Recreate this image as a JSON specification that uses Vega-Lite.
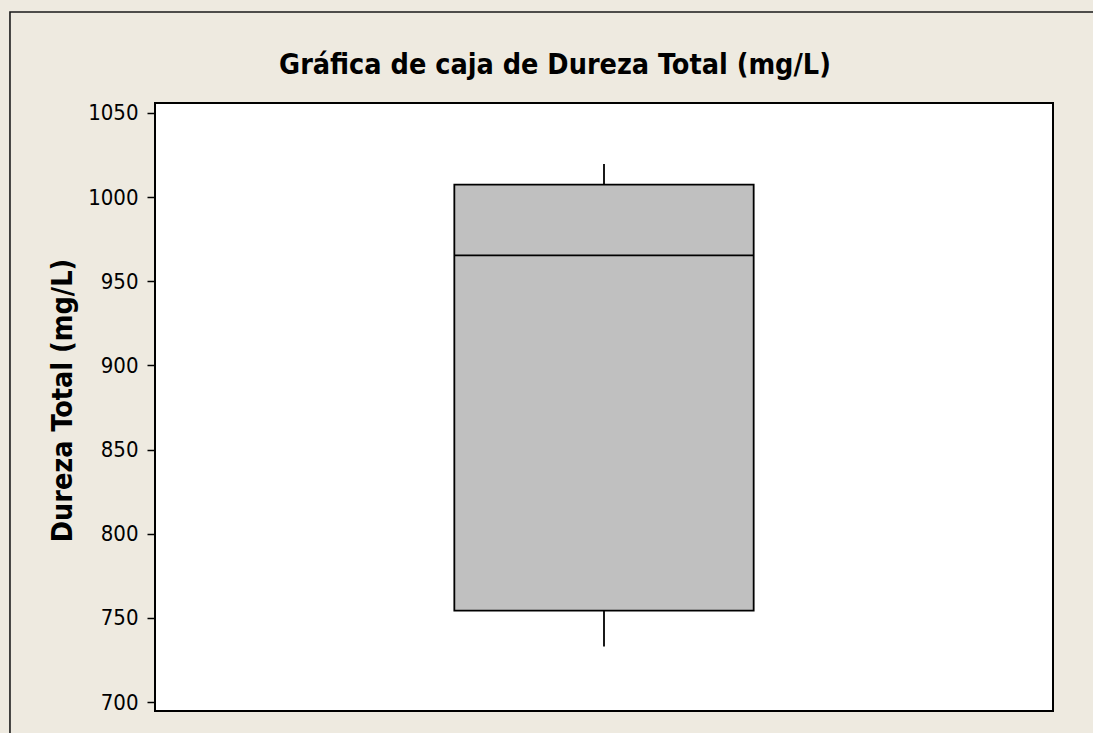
{
  "$schema": "https://vega.github.io/schema/vega-lite/v6.json",
  "width": 898,
  "height": 608,
  "autosize": {"type": "none"},
  "padding": {"left": 155, "top": 103, "right": 40, "bottom": 22},
  "background": "#EEEAE0",
  "title": {
    "text": "Gráfica de caja de Dureza Total (mg/L)",
    "font": "DejaVu Sans Condensed",
    "fontSize": 28.5,
    "fontWeight": "bold",
    "color": "#000000",
    "anchor": "middle",
    "dx": -49,
    "dy": 120,
    "baseline": "alphabetic",
    "offset": 29
  },
  "config": {"view": {"stroke": "#000000", "strokeWidth": 2, "fill": "#FFFFFF"}},
  "data": {
    "values": [
      {"variable": "Dureza Total (mg/L)", "lower": 733, "q1": 754.3, "median": 965.4, "q3": 1007.4, "upper": 1019.7}
    ]
  },
  "resolve": {"scale": {"x": "independent"}},
  "layer": [
    {
      "mark": {"type": "rule", "color": "#000000", "strokeWidth": 1.8},
      "encoding": {
        "x": {"field": "variable", "type": "nominal", "bandPosition": 0.5, "scale": {"type": "band", "paddingInner": 0, "paddingOuter": 1}, "axis": null},
        "y": {
          "field": "lower",
          "type": "quantitative",
          "scale": {"domain": [694.7, 1055.9], "nice": false, "zero": false},
          "axis": {
            "title": "Dureza Total (mg/L)",
            "titleFont": "DejaVu Sans Condensed",
            "titleFontSize": 28.5,
            "titleFontWeight": "bold",
            "titleColor": "#000000",
            "titlePadding": 10,
            "titleY": 297,
            "values": [700, 750, 800, 850, 900, 950, 1000, 1050],
            "format": "d",
            "labelFont": "DejaVu Sans Condensed",
            "labelFontSize": 22,
            "labelColor": "#000000",
            "labelPadding": 9,
            "tickColor": "#000000",
            "tickSize": 8,
            "tickWidth": 1.5,
            "domain": false,
            "grid": false
          }
        },
        "y2": {"field": "upper"}
      }
    },
    {
      "mark": {"type": "bar", "fill": "#C0C0C0", "stroke": "#000000", "strokeWidth": 1.8},
      "encoding": {
        "x": {"field": "variable", "type": "nominal", "scale": {"type": "band", "paddingInner": 0, "paddingOuter": 1}, "axis": null},
        "y": {"field": "q1", "type": "quantitative"},
        "y2": {"field": "q3"}
      }
    },
    {
      "mark": {"type": "bar", "fill": null, "stroke": "#000000", "strokeWidth": 1.8},
      "encoding": {
        "x": {"field": "variable", "type": "nominal", "scale": {"type": "band", "paddingInner": 0, "paddingOuter": 1}, "axis": null},
        "y": {"field": "median", "type": "quantitative"},
        "y2": {"field": "median"}
      }
    },
    {
      "mark": {"type": "rect", "fill": null, "stroke": "#1A1A1A", "strokeWidth": 1.6, "clip": false},
      "encoding": {
        "x": {"datum": -0.1615, "type": "quantitative", "scale": {"domain": [0, 1]}, "axis": null},
        "x2": {"datum": 1.3},
        "y": {"datum": 1110, "type": "quantitative"},
        "y2": {"datum": 550}
      }
    }
  ]
}
